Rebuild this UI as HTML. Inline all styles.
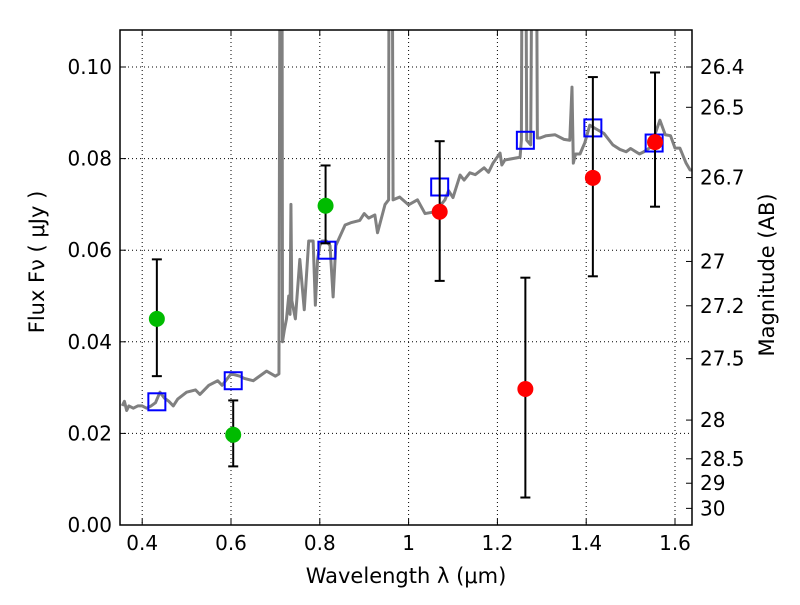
<!DOCTYPE html>
<html><head><meta charset="utf-8"><style>
body{margin:0;background:#fff;}
svg text{font-family:"DejaVu Sans","Liberation Sans",sans-serif;}
</style></head><body>
<svg id="chart" width="800" height="600" xmlns="http://www.w3.org/2000/svg"></svg>
<script>
const specLam=[0.355,0.36,0.365,0.37,0.38,0.39,0.40,0.41,0.42,0.43,0.44,0.45,0.46,0.47,0.48,0.50,0.52,0.53,0.55,0.57,0.58,0.60,0.62,0.63,0.65,0.68,0.70,0.708,0.712,0.714,0.716,0.72,0.725,0.73,0.733,0.735,0.737,0.745,0.755,0.765,0.775,0.785,0.79,0.795,0.80,0.805,0.815,0.823,0.83,0.836,0.857,0.87,0.89,0.90,0.91,0.924,0.93,0.947,0.955,0.957,0.961,0.965,0.98,1.0,1.02,1.037,1.06,1.082,1.09,1.10,1.116,1.125,1.138,1.15,1.17,1.18,1.19,1.206,1.21,1.217,1.251,1.254,1.258,1.261,1.266,1.275,1.282,1.285,1.29,1.296,1.31,1.33,1.35,1.363,1.368,1.371,1.376,1.386,1.397,1.408,1.42,1.44,1.46,1.476,1.49,1.5,1.52,1.53,1.545,1.566,1.578,1.59,1.60,1.611,1.625,1.634,1.64];
const specFlux=[0.026,0.027,0.025,0.026,0.0255,0.026,0.026,0.0255,0.026,0.0267,0.029,0.0277,0.027,0.026,0.0275,0.029,0.0295,0.0285,0.0305,0.0315,0.0305,0.033,0.0325,0.032,0.0315,0.0336,0.0325,0.033,0.2,0.2,0.04,0.0425,0.045,0.05,0.046,0.070,0.049,0.045,0.058,0.047,0.062,0.062,0.048,0.058,0.061,0.062,0.062,0.061,0.0498,0.061,0.0655,0.066,0.0665,0.068,0.067,0.0677,0.0638,0.070,0.071,0.2,0.2,0.071,0.0716,0.0699,0.071,0.068,0.0684,0.071,0.073,0.0715,0.0764,0.0753,0.0769,0.0765,0.078,0.077,0.079,0.0812,0.0786,0.0797,0.0803,0.084,0.2,0.2,0.084,0.083,0.2,0.2,0.0845,0.0845,0.085,0.0852,0.0842,0.084,0.0956,0.079,0.081,0.081,0.0835,0.0873,0.0866,0.0855,0.083,0.082,0.0815,0.0822,0.081,0.0815,0.0825,0.0884,0.0852,0.085,0.0823,0.0823,0.079,0.0775,0.0775];
const photLam=[0.433,0.605,0.813];
const photFlux=[0.045,0.0197,0.0697];
const photLo=[0.0325,0.0128,0.0615];
const photHi=[0.058,0.0272,0.0785];
const redLam=[1.07,1.263,1.415,1.555];
const redFlux=[0.0684,0.0297,0.0758,0.0836];
const redLo=[0.0533,0.006,0.0543,0.0695];
const redHi=[0.0838,0.054,0.0978,0.0988];
const modelLam=[0.433,0.605,0.816,1.07,1.263,1.415,1.553];
const modelFlux=[0.0269,0.0315,0.060,0.0738,0.084,0.0867,0.0834];
const xTicks=[0.4,0.6,0.8,1.0,1.2,1.4,1.6];
const xTickLabels=["0.4","0.6","0.8","1","1.2","1.4","1.6"];
const yTicks=[0,0.02,0.04,0.06,0.08,0.10];
const yTickLabels=["0.00","0.02","0.04","0.06","0.08","0.10"];
const magTicks=[26.4,26.5,26.7,27,27.2,27.5,28,28.5,29,30];
const magLabels=["26.4","26.5","26.7","27","27.2","27.5","28","28.5","29","30"];

const L=120,R=692,T=30,B=525;
const xmin=0.35,xmax=0.35+(R-L)/444,ymin=0,ymax=(B-T)/4580;
const X=v=>L+(v-xmin)/(xmax-xmin)*(R-L);
const Y=v=>B-(v-ymin)/(ymax-ymin)*(B-T);
const svg=document.getElementById('chart');
const NS='http://www.w3.org/2000/svg';
function mk(tag,attrs,parent){const e=document.createElementNS(NS,tag);for(const k in attrs)e.setAttribute(k,attrs[k]);(parent||svg).appendChild(e);return e;}

const defs=mk('defs',{});
const cp=mk('clipPath',{id:'clip'},defs);mk('rect',{x:L,y:T,width:R-L,height:B-T},cp);

xTicks.forEach((t,i)=>{const x=X(t);
 const g=mk('line',{x1:x,x2:x,y1:T,y2:B,stroke:'#000','stroke-dasharray':'1,3','stroke-width':1});
 
 mk('line',{x1:x,x2:x,y1:B,y2:B-6,stroke:'#000'});mk('line',{x1:x,x2:x,y1:T,y2:T+6,stroke:'#000'});
 const tx=mk('text',{x:x,y:B+25,'font-size':20,'text-anchor':'middle'});tx.textContent=xTickLabels[i];
 
});
yTicks.forEach((t,i)=>{const y=Y(t);
 if(t>0){const g=mk('line',{x1:L,x2:R,y1:y,y2:y,stroke:'#000','stroke-dasharray':'1,3','stroke-width':1});
 }
 mk('line',{x1:L,x2:L+6,y1:y,y2:y,stroke:'#000'});
 const tx=mk('text',{x:L-8,y:y+7,'font-size':20,'text-anchor':'end'});tx.textContent=yTickLabels[i];
 
});
magTicks.forEach((m,i)=>{const f=Math.pow(10,(23.9-m)/2.5);const y=Y(f);
 mk('line',{x1:R,x2:R-6,y1:y,y2:y,stroke:'#000'});
 const tx=mk('text',{x:R+8,y:y+7,'font-size':20});tx.textContent=magLabels[i];
 
});

const g=mk('g',{'clip-path':'url(#clip)'});
const sp=mk('polyline',{points:specLam.map((l,i)=>X(l)+','+Y(specFlux[i])).join(' '),fill:'none',stroke:'#808080','stroke-width':3,'stroke-linejoin':'round'},g);


modelLam.forEach((l,i)=>{const s=mk('rect',{x:X(l)-8.5,y:Y(modelFlux[i])-8.5,width:17,height:17,fill:'none',stroke:'#0000ff','stroke-width':2},g);
 });

function errs(lams,fl,lo,hi,col,name){lams.forEach((l,i)=>{const x=X(l);
 const e=mk('g',{},g);
 mk('line',{x1:x,x2:x,y1:Y(lo[i]),y2:Y(hi[i]),stroke:'#000','stroke-width':2},e);
 mk('line',{x1:x-5,x2:x+5,y1:Y(lo[i]),y2:Y(lo[i]),stroke:'#000','stroke-width':2},e);
 mk('line',{x1:x-5,x2:x+5,y1:Y(hi[i]),y2:Y(hi[i]),stroke:'#000','stroke-width':2},e);
 const c=mk('circle',{cx:x,cy:Y(fl[i]),r:8,fill:col},g);
 });}
errs(photLam,photFlux,photLo,photHi,'#00bb00','green-photometry');
errs(redLam,redFlux,redLo,redHi,'#ff0000','red-photometry');

const fr=mk('rect',{x:L,y:T,width:R-L,height:B-T,fill:'none',stroke:'#000','stroke-width':1.5});


const xl=mk('text',{x:406,y:583,'font-size':21,'text-anchor':'middle'});xl.textContent='Wavelength  λ (μm)';

const yl=mk('text',{x:0,y:0,'font-size':21,'text-anchor':'middle',transform:'translate(44,262) rotate(-90)'});yl.textContent='Flux  Fν  ( μJy )';

const rl=mk('text',{x:0,y:0,'font-size':21,'text-anchor':'middle',transform:'translate(774,275) rotate(-90)'});rl.textContent='Magnitude (AB)';

</script>
</body></html>
